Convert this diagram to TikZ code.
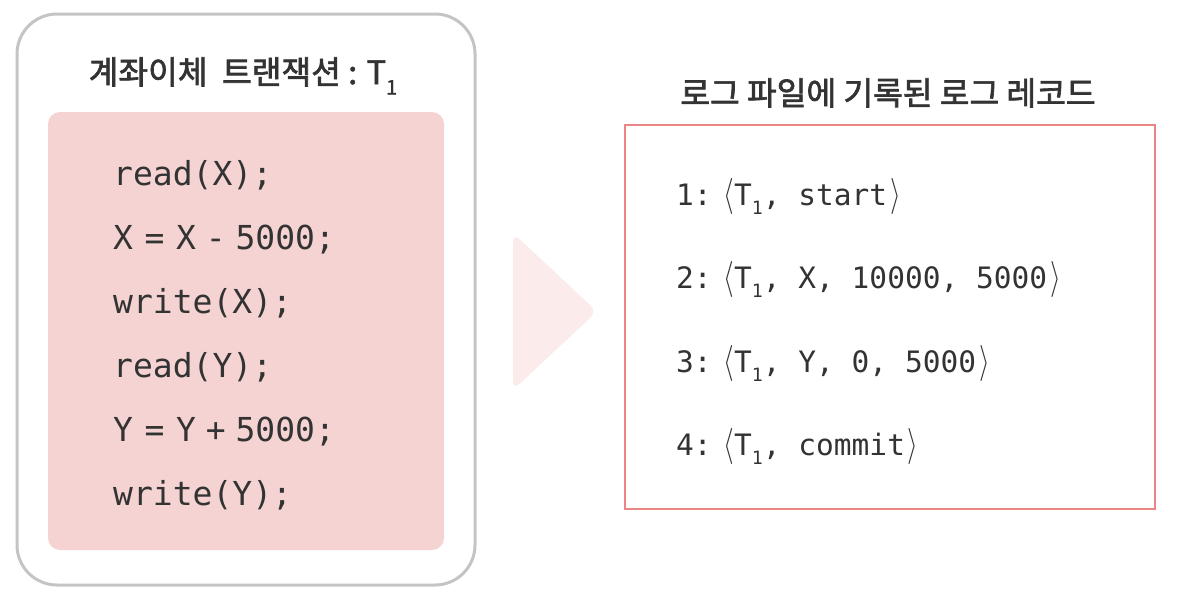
\documentclass[tikz,border=0pt]{standalone}
\usepackage{fontspec}
\usepackage{graphicx}
\newfontfamily\kr{Noto Sans CJK KR}[FakeBold=2]
\newfontfamily\mono{DejaVu Sans Mono}
\definecolor{txt}{HTML}{333333}
\definecolor{outerc}{HTML}{C4C4C4}
\definecolor{pinkfill}{HTML}{F5D3D3}
\definecolor{trifill}{HTML}{FBEBEB}
\definecolor{redc}{HTML}{EC8585}
\newcommand{\tsub}{\raisebox{-0.6ex}{\scalebox{0.62}{1}}}
\newcommand{\lab}{\scalebox{1.1}[1.45]{$\langle$}}
\newcommand{\rab}{\scalebox{1.1}[1.45]{$\rangle$}}
\begin{document}
\begin{tikzpicture}[x=1pt,y=-1pt,
  titletext/.style={font={\kr\fontsize{32.3}{36}\selectfont}, text=txt, inner sep=0pt, anchor=base},
  codeline/.style={font={\mono\fontsize{33}{38}\selectfont}, text=txt, inner sep=0pt, anchor=base west},
  logline/.style={font={\mono\fontsize{29.5}{34}\selectfont}, text=txt, inner sep=0pt, anchor=base west}]
\useasboundingbox (0,0) rectangle (1179,605);
% outer box
\node[draw=outerc, line width=3pt, rounded corners=40pt, minimum width=458pt, minimum height=571pt, inner sep=0pt] (outer) at (246,299.5) {};
\node[fill=pinkfill, rounded corners=12pt, minimum width=396pt, minimum height=438pt, inner sep=0pt] (code) at (246,331) {};
\node[titletext] (ttl) at (243,84) {계좌이체\hspace{0.45em}트랜잭션 : T\tsub};
% code lines
\node[codeline] (c1) at (113,185) {read(X);};
\node[codeline] (c2) at (113,249) {X\hspace{0.35em}=\hspace{0.35em}X\hspace{0.3em}-\hspace{0.3em}5000;};
\node[codeline] (c3) at (113,313) {write(X);};
\node[codeline] (c4) at (113,377) {read(Y);};
\node[codeline] (c5) at (113,441) {Y\hspace{0.35em}=\hspace{0.35em}Y\hspace{0.3em}+\hspace{0.3em}5000;};
\node[codeline] (c6) at (113,505) {write(Y);};
% arrow triangle
\fill[trifill, rounded corners=9pt] (513,233) -- (597,311.5) -- (513,390) -- cycle;
\coordinate (arrowtip) at (597,311.5);
% right title and box
\node[titletext] (rttl) at (888,105) {로그 파일에 기록된 로그 레코드};
\node[draw=redc, line width=1.8pt, minimum width=530pt, minimum height=384pt, inner sep=0pt] (log) at (890,317) {};
\node[logline] (l1) at (676,205) {1:\hspace{0.4em}\lab T\tsub, start\hspace{0.1em}\rab};
\node[logline] (l2) at (676,288) {2:\hspace{0.4em}\lab T\tsub, X, 10000, 5000\hspace{0.1em}\rab};
\node[logline] (l3) at (676,372) {3:\hspace{0.4em}\lab T\tsub, Y, 0, 5000\hspace{0.1em}\rab};
\node[logline] (l4) at (676,455) {4:\hspace{0.4em}\lab T\tsub, commit\hspace{0.1em}\rab};
\end{tikzpicture}
\end{document}
